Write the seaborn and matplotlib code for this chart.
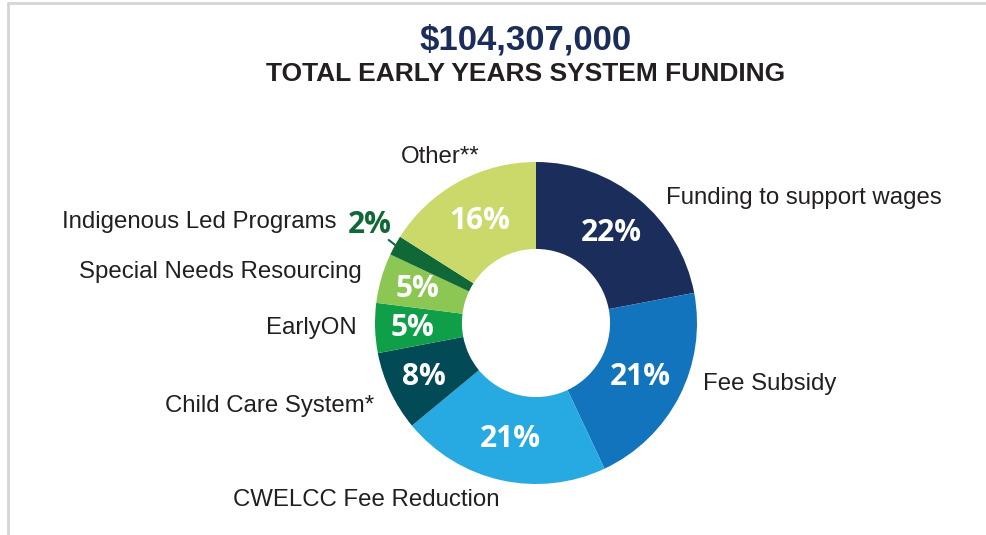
import matplotlib
matplotlib.use("Agg")
import matplotlib.pyplot as plt
import seaborn as sns
from matplotlib.lines import Line2D
import numpy as np

sns.set_theme(style="white")
plt.rcParams['font.family'] = ['Liberation Sans', 'DejaVu Sans']
PCT_FONT = ['Open Sans', 'DejaVu Sans']

# ---- data ----
categories = ["Funding to support wages", "Fee Subsidy", "CWELCC Fee Reduction",
              "Child Care System*", "EarlyON", "Special Needs Resourcing",
              "Indigenous Led Programs", "Other**"]
shares = [22, 21, 21, 8, 5, 5, 2, 16]
pct_labels = ["22%", "21%", "21%", "8%", "5%", "5%", "2%", "16%"]
colors = ["#1B2D5A", "#1174BC", "#27A9E1", "#034A57", "#0E9F48", "#8CC653", "#106837", "#CBD86A"]
title_amount = "$104,307,000"
title_text = "TOTAL EARLY YEARS SYSTEM FUNDING"

# ---- layout (pixel coordinates, y measured from top) ----
W, H = 987, 535
cx, cy, R = 536, 323, 161
hole = 0.46
label_pos = [(666, 198, 'left'), (703, 384, 'left'), (233, 500, 'left'),
             (374, 406, 'right'), (357, 328, 'right'), (362, 272, 'right'),
             (336, 222, 'right'), (440, 157, 'center')]

fig = plt.figure(figsize=(W / 100, H / 100), dpi=100)
ax = fig.add_axes([0, 0, 1, 1])

wedges, _ = ax.pie(shares, colors=colors, startangle=90, counterclock=False,
                   radius=R, center=(cx, H - cy),
                   wedgeprops=dict(width=R * (1 - hole), linewidth=0))
ax.set_xlim(0, W)
ax.set_ylim(0, H)
ax.set_aspect('equal')
ax.axis('off')

for i, w in enumerate(wedges):
    ang = np.deg2rad((w.theta1 + w.theta2) / 2)
    if pct_labels[i] == "2%":
        continue
    rr = R * (0.73 if shares[i] >= 10 else 0.77)
    ax.text(cx + rr * np.cos(ang), H - cy + rr * np.sin(ang) - 1, pct_labels[i],
            ha='center', va='center', color='white', fontsize=21.5,
            fontweight='bold', family=PCT_FONT)

# 2% outside label with leader
i2 = pct_labels.index("2%")
w = wedges[i2]
ang = np.deg2rad((w.theta1 + w.theta2) / 2)
x0, y0 = cx + R * 0.98 * np.cos(ang), H - cy + R * 0.98 * np.sin(ang)
ax.plot([x0, x0 - 9], [y0, y0 + 7], color=colors[i2], lw=1.5)
ax.text(370, H - 225, pct_labels[i2], ha='center', va='center', color=colors[i2],
        fontsize=21.5, fontweight='bold', family=PCT_FONT)

for (x, y, ha), name in zip(label_pos, categories):
    ax.text(x, H - y, name, ha=ha, va='center', fontsize=17.3, color='#231f20')

ax.text(526, H - 40, title_amount, ha='center', va='center', fontsize=25,
        fontweight='bold', color='#1B2D5A')
ax.text(526, H - 74, title_text, ha='center', va='center', fontsize=19,
        fontweight='bold', color='#231f20')

# frame lines
fig.add_artist(Line2D([8 / W, 1], [1 - 3 / H, 1 - 3 / H], color='#d4d4d4', lw=2,
                      transform=fig.transFigure))
fig.add_artist(Line2D([8 / W, 8 / W], [0, 1 - 3 / H], color='#d4d4d4', lw=2,
                      transform=fig.transFigure))

fig.savefig("out.png", dpi=100, facecolor='white')
